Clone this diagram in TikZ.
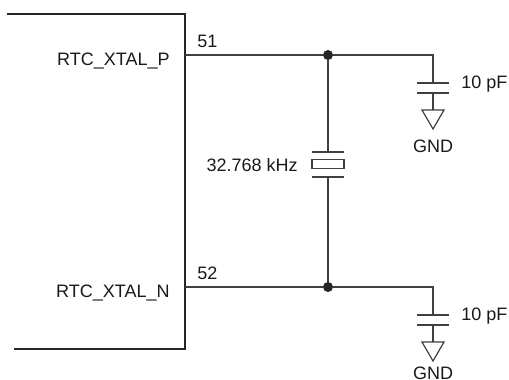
\documentclass[tikz,border=0pt]{standalone}
\usepackage{fontspec}
\setmainfont{Liberation Sans}
\usetikzlibrary{arrows.meta}
\usetikzlibrary{calc}

\begin{document}
\begin{tikzpicture}[
        x=0.5pt, y=-0.5pt,
        wire/.style={draw=black!75, line width=0.6pt},
        chip/.style={draw=black!85, line width=1.3pt},
        lbl/.style={font=\fontsize{9}{10}\selectfont, text=black!90, inner sep=0pt},
        junction/.style={circle, fill=black!85, inner sep=0pt, minimum size=5pt},
        xtal/.style={draw=black!75, line width=0.6pt, minimum width=16pt, minimum height=4.5pt, inner sep=0pt}
    ]
        \useasboundingbox (0,0) rectangle (509,380);

        % Bloque del integrado
        \draw[chip] (7,14) -- (185,14) -- (185,349) -- (14,349);

        % Pines, nodos y condensadores a masa
        \foreach \n/\y/\num/\g in {P/55/51/97, N/287/52/92} {
            \coordinate (pin\n) at (185,\y);
            \node[junction] (dot\n) at (328,\y) {};
            \coordinate (bend\n) at (433,\y);
            \coordinate (capA\n) at (433,\y+28);
            \coordinate (capB\n) at (433,\y+38);
            \coordinate (gnd\n) at (433,\y+55);
            \node[lbl, anchor=base east] (name\n) at (170,\y+10) {RTC\_XTAL\_\n};
            \node[lbl, anchor=base west] (num\n) at (197,\y-8) {\num};
            \node[lbl, anchor=base west] (cval\n) at (461,\y+33) {10 pF};
            \node[lbl, anchor=base] (gtxt\n) at (433,\y+\g) {GND};
            \draw[wire] (pin\n) -- (dot\n) -- (bend\n) -- (capA\n);
            \draw[wire] ($(capA\n)+(-16,0)$) -- ($(capA\n)+(16,0)$);
            \draw[wire] ($(capB\n)+(-16,0)$) -- ($(capB\n)+(16,0)$);
            \draw[wire] (capB\n) -- (gnd\n);
            \draw[wire, line join=miter] ($(gnd\n)+(-11,0)$) -- ($(gnd\n)+(11,0)$) -- ($(gnd\n)+(0,19)$) -- cycle;
        }

        % Cristal
        \node[xtal] (xtal) at (328,164) {};
        \coordinate (xtop) at (328,152);
        \coordinate (xbot) at (328,177);
        \draw[wire] (312,152) -- (344,152);
        \draw[wire] (312,177) -- (344,177);
        \draw[wire] (dotP) -- (xtop);
        \draw[wire] (xbot) -- (dotN);
        \node[lbl, anchor=base east] (freq) at (298,171) {32.768 kHz};
    \end{tikzpicture}
\end{document}
